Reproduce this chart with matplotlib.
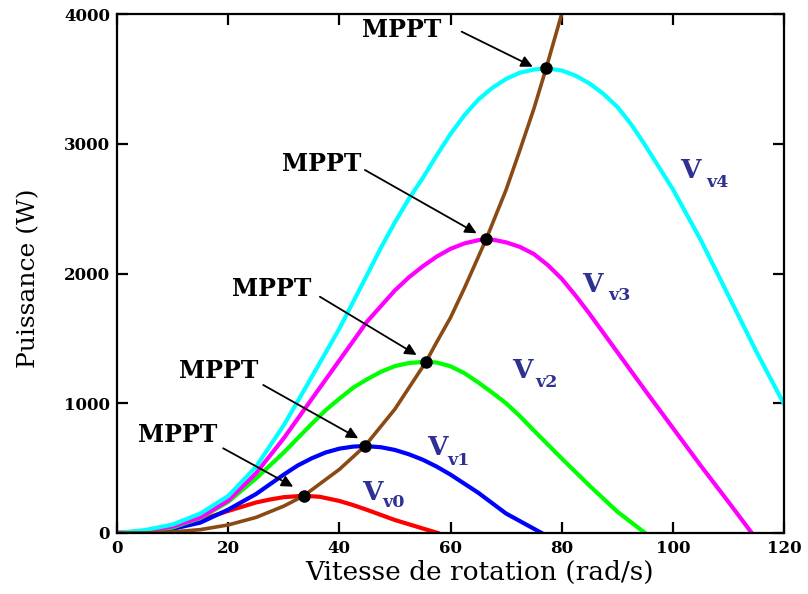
import matplotlib
matplotlib.use("Agg")
import matplotlib.pyplot as plt

# courbes de puissance
red_x = [0, 5, 10, 15, 20, 25, 27.5, 30, 33.6, 36.5, 40, 42.5, 45, 50, 55, 57.7]
red_y = [0, 8, 40, 100, 170, 235, 258, 276, 287, 279, 247, 215, 178, 100, 35, 0]

blue_x = [0, 5, 10, 15, 20, 25, 30, 32.5, 35, 37.5, 40, 42.5, 44.6, 47.5, 50, 52.5, 55, 57.5, 60, 65, 70, 76.4]
blue_y = [0, 8, 32, 80, 180, 300, 450, 520, 575, 620, 650, 666, 670, 661, 640, 607, 565, 512, 450, 310, 150, 0]

green_x = [0, 5, 10, 15, 20, 25, 30, 35, 37.5, 40, 42.5, 45, 47.5, 50, 52.5, 55.6, 57.5, 60, 62.5, 65, 67.5,
           70, 72.5, 75, 80, 85, 90, 95]
green_y = [0, 10, 42, 115, 240, 420, 620, 840, 945, 1035, 1120, 1185, 1243, 1286, 1310, 1320, 1314, 1285, 1232,
           1160, 1082, 1000, 900, 790, 575, 365, 165, 0]

magenta_x = [0, 5, 10, 15, 20, 25, 30, 35, 40, 45, 50, 52.5, 55, 57.5, 60, 62.5, 65, 66.4, 68, 70, 72.5, 75,
             77.5, 80, 82.5, 85, 90, 95, 100, 105, 110, 114.2]
magenta_y = [0, 15, 50, 120, 250, 460, 730, 1030, 1330, 1630, 1870, 1970, 2055, 2130, 2190, 2232, 2257, 2263,
             2258, 2240, 2205, 2150, 2065, 1960, 1830, 1690, 1395, 1100, 810, 520, 240, 0]

cyan_x = [0, 5, 10, 15, 20, 25, 30, 35, 40, 45, 47.5, 50, 52.5, 55, 57.5, 60, 62.5, 65, 67.5, 70, 72.5, 75,
          77.2, 80, 82.5, 85, 87.5, 90, 92.5, 95, 100, 105, 110, 115, 120]
cyan_y = [0, 22, 65, 150, 285, 510, 830, 1200, 1575, 1990, 2200, 2395, 2575, 2735, 2910, 3075, 3220, 3340,
          3430, 3500, 3548, 3572, 3581, 3565, 3525, 3465, 3385, 3285, 3150, 2990, 2650, 2260, 1830, 1400, 994]

# courbe MPPT
brown_x = [0, 5, 10, 15, 20, 25, 30, 33.6, 40, 44.6, 50, 55.6, 57.5, 60, 62.5, 66.4, 70, 72.5, 75, 77.2, 80]
brown_y = [0, 1, 8, 26, 62, 120, 207, 287, 490, 670, 955, 1320, 1470, 1660, 1887, 2263, 2645, 2953, 3270, 3581, 4000]

mppt_x = [33.6, 44.6, 55.6, 66.4, 77.2]
mppt_y = [287, 670, 1320, 2263, 3581]

# etiquettes
mppt_text = [(11.0, 755), (18.3, 1249), (27.9, 1880), (36.9, 2844), (51.3, 3877)]
arrow_start = [(19.1, 653), (26.3, 1141), (36.5, 1821), (44.6, 2798), (62.0, 3864)]
arrow_end = [(31.7, 357), (43.4, 730), (53.9, 1372), (64.7, 2310), (74.8, 3594)]

v_names = ["v0", "v1", "v2", "v3", "v4"]
v_pos = [(44.1, 254), (55.8, 601), (71.0, 1195), (83.6, 1857), (101.3, 2736)]
sub_pos = [(47.7, 200), (59.4, 524), (75.2, 1125), (88.3, 1796), (106.1, 2667)]

x_ticks = [0, 20, 40, 60, 80, 100, 120]
y_ticks = [0, 1000, 2000, 3000, 4000]

serif = ["DejaVu Serif"]
label_blue = "#2E3192"

fig = plt.figure(figsize=(8.08, 5.94), dpi=100)
ax = fig.add_axes([0.1448, 0.1027, 0.8255, 0.8737])

ax.plot(red_x, red_y, color="#FF0000", lw=3)
ax.plot(blue_x, blue_y, color="#0000FF", lw=3)
ax.plot(green_x, green_y, color="#00FF00", lw=3)
ax.plot(magenta_x, magenta_y, color="#FF00FF", lw=3)
ax.plot(cyan_x, cyan_y, color="#00FFFF", lw=3)
ax.plot(brown_x, brown_y, color="#8B4A14", lw=2.6)
ax.plot(mppt_x, mppt_y, "o", color="black", ms=8, zorder=5)

for (tx, ty), s, e in zip(mppt_text, arrow_start, arrow_end):
    ax.text(tx, ty, "MPPT", family=serif, fontsize=17, fontweight="bold",
            ha="center", va="center")
    ax.annotate("", xy=e, xytext=s,
                arrowprops=dict(arrowstyle="-|>", color="black", lw=1.3,
                                mutation_scale=17, shrinkA=0, shrinkB=0))

for name, (vx, vy), (sx, sy) in zip(v_names, v_pos, sub_pos):
    ax.text(vx, vy, "V", family=serif, fontsize=19, fontweight="bold",
            color=label_blue, ha="left", va="baseline")
    ax.text(sx, sy, name, family=serif, fontsize=12.5, fontweight="bold",
            color=label_blue, ha="left", va="baseline")

ax.set_xlim(0, 120)
ax.set_ylim(0, 4000)
ax.set_xticks(x_ticks)
ax.set_yticks(y_ticks)
ax.tick_params(direction="in", top=True, right=True, length=8, width=1.6, pad=5)
for lab in ax.get_xticklabels() + ax.get_yticklabels():
    lab.set_family(serif)
    lab.set_fontweight("bold")
    lab.set_fontsize(12)
for sp in ax.spines.values():
    sp.set_linewidth(1.6)

ax.set_xlabel("Vitesse de rotation (rad/s)", family=serif, fontsize=19)
ax.set_ylabel("Puissance (W)", family=serif, fontsize=18)
ax.xaxis.set_label_coords(0.543, -0.052)
ax.yaxis.set_label_coords(-0.115, 0.49)

fig.savefig("out.png", dpi=100)
